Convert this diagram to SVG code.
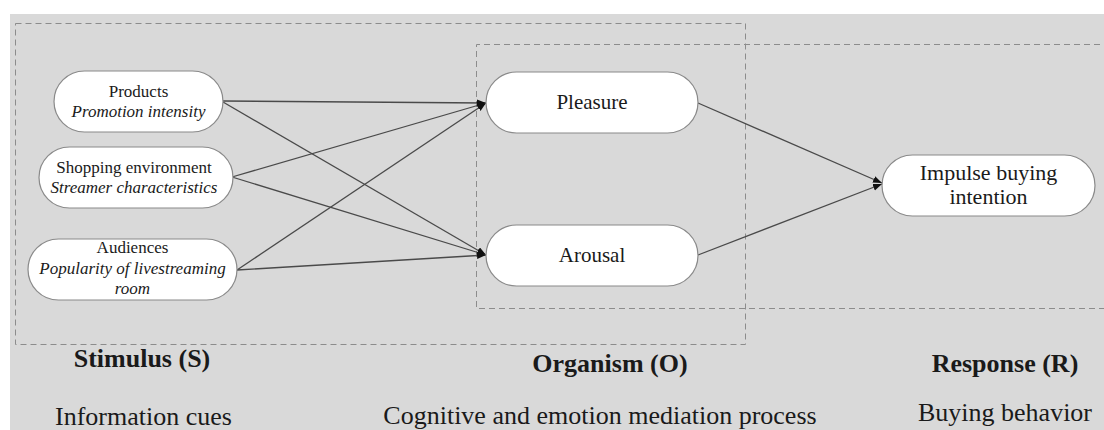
<svg xmlns="http://www.w3.org/2000/svg" width="1104" height="430" viewBox="0 0 1104 430">
  <style>
    .bg { fill: #d9d9d9; }
    .dash { fill: none; stroke: #8c8c8c; stroke-width: 1; stroke-dasharray: 6 4; }
    .node { fill: #ffffff; stroke: #8a8a8a; stroke-width: 1.2; }
    .t { font-family: 'Liberation Serif', 'DejaVu Serif', 'Times New Roman', serif; fill: #1a1a1a; text-anchor: middle; }
    .s { font-size: 17px; }
    .i { font-style: italic; }
    .m { font-size: 21px; }
    .big { font-size: 26px; }
    .b { font-weight: bold; }
    .edge { fill: none; stroke: #4a4a4a; stroke-width: 1.3; marker-end: url(#arr); }
  </style>
  <defs>
    <marker id="arr" markerUnits="userSpaceOnUse" markerWidth="10" markerHeight="8" refX="9" refY="3.5" orient="auto">
      <path d="M0,0 L9,3.5 L0,7 z" fill="#111"/>
    </marker>
  </defs>

  <rect class="bg" x="10" y="14" width="1094" height="416"/>

  <g id="frames">
    <rect class="dash" x="15.5" y="23.5" width="730" height="321"/>
    <path class="dash" d="M1110,44.5 H476.5 V308.5 H1110"/>
  </g>

  <g id="connectors">
    <line class="edge" x1="223" y1="101" x2="486" y2="103"/>
    <line class="edge" x1="223" y1="102" x2="486" y2="255"/>
    <line class="edge" x1="232" y1="177" x2="486" y2="103"/>
    <line class="edge" x1="232" y1="177" x2="486" y2="255"/>
    <line class="edge" x1="237" y1="270" x2="486" y2="103"/>
    <line class="edge" x1="237" y1="270" x2="486" y2="255"/>
    <line class="edge" x1="698" y1="103" x2="882" y2="183"/>
    <line class="edge" x1="698" y1="255" x2="882" y2="184"/>
  </g>

  <g id="products">
    <rect class="node" x="54" y="71" width="169" height="61" rx="30.5"/>
    <text class="t s" font-family="Liberation Serif, serif" x="138.5" y="97">Products</text>
    <text class="t s i" font-family="Liberation Serif, serif" x="138.5" y="117">Promotion intensity</text>
  </g>

  <g id="shopping">
    <rect class="node" x="39" y="147" width="194" height="61" rx="30.5"/>
    <text class="t s" x="134" y="173">Shopping environment</text>
    <text class="t s i" x="134" y="193">Streamer characteristics</text>
  </g>

  <g id="audiences">
    <rect class="node" x="28" y="239" width="209" height="61" rx="30.5"/>
    <text class="t s" x="132.5" y="253">Audiences</text>
    <text class="t s i" x="132.5" y="273.5">Popularity of livestreaming</text>
    <text class="t s i" x="132.5" y="294">room</text>
  </g>

  <g id="pleasure">
    <rect class="node" x="486" y="72" width="212" height="61" rx="30.5"/>
    <text class="t m" x="592" y="109">Pleasure</text>
  </g>

  <g id="arousal">
    <rect class="node" x="486" y="225" width="212" height="61" rx="30.5"/>
    <text class="t m" x="592" y="262">Arousal</text>
  </g>

  <g id="impulse">
    <rect class="node" x="882" y="155" width="213" height="61" rx="30.5"/>
    <text class="t" style="font-size:22px" x="988.5" y="180">Impulse buying</text>
    <text class="t" style="font-size:22px" x="988.5" y="204">intention</text>
  </g>

  <g id="labels">
    <text class="t big b" x="142" y="367">Stimulus (S)</text>
    <text class="t big b" x="610" y="372">Organism (O)</text>
    <text class="t big b" x="1005" y="372">Response (R)</text>
    <text class="t big" x="143.5" y="425">Information cues</text>
    <text class="t big" x="600" y="424">Cognitive and emotion mediation process</text>
    <text class="t big" x="1005" y="421">Buying behavior</text>
  </g>
</svg>
